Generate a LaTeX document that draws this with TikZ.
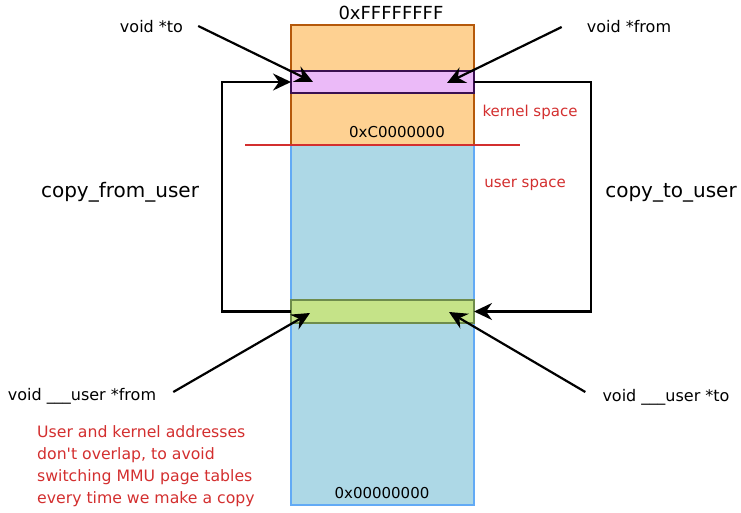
\documentclass[tikz,border=0pt]{standalone}
\usepackage{fontspec}
\setmainfont{DejaVu Sans}
\usetikzlibrary{arrows.meta,calc}
\definecolor{orfill}{HTML}{FED192}
\definecolor{orline}{HTML}{B5590B}
\definecolor{blfill}{HTML}{ADD8E6}
\definecolor{blline}{HTML}{62AAF5}
\definecolor{pufill}{HTML}{EBBAF8}
\definecolor{puline}{HTML}{3A1050}
\definecolor{grfill}{HTML}{C5E388}
\definecolor{grline}{HTML}{6E8C4C}
\definecolor{redtxt}{HTML}{D32F2F}
\begin{document}
\begin{tikzpicture}[x=1pt,y=-1pt,
  box/.style={draw, line width=2pt, inner sep=0, outer sep=0, minimum width=183pt},
  lbl/.style={inner sep=0, anchor=base, font=\fontsize{15}{18}\selectfont},
  ptrlbl/.style={inner sep=0, anchor=base, font=\fontsize{16}{19}\selectfont},
  copylbl/.style={inner sep=0, anchor=base, font=\fontsize{20}{24}\selectfont},
  redlbl/.style={lbl, text=redtxt},
  ptr/.style={draw, line width=2.2pt, -{Stealth[length=18pt,width=17pt,inset=6pt]}},
  loopline/.style={draw, line width=2.2pt, -{Stealth[length=18pt,width=17pt,inset=6pt]}},
]
\useasboundingbox (0,0) rectangle (741,513);

% memory column
\node[box, fill=blfill, draw=blline, minimum height=360pt, anchor=north west] (ubox) at (291,145) {};
\node[box, fill=orfill, draw=orline, minimum height=120pt, anchor=north west] (kbox) at (291,25) {};
\draw[redtxt, line width=1.8pt] ($(kbox.south west)+(-46,0)$) -- ($(kbox.south east)+(46,0)$);

\node[box, fill=pufill, draw=puline, minimum height=22pt] (kbar) at (382.5,82) {};
\node[box, fill=grfill, draw=grline, minimum height=23pt] (ubar) at (382.5,311.5) {};

% addresses and region labels
\node[lbl, font=\fontsize{18}{21}\selectfont] (top) at (391,20) {0xFFFFFFFF};
\node[lbl] (mid) at (397,138) {0xC0000000};
\node[lbl] (bot) at (382,498) {0x00000000};
\node[redlbl] (kspace) at (530,117) {kernel space};
\node[redlbl] (uspace) at (525,187) {user space};

% pointer labels
\node[ptrlbl] (vto) at (151.5,33) {void *to};
\node[ptrlbl] (vfrom) at (629,33) {void *from};
\node[ptrlbl] (vufrom) at (82,400) {void \_\_\_user *from};
\node[ptrlbl] (vuto) at (666,401) {void \_\_\_user *to};

% copy labels
\node[copylbl] (cfu) at (120,197) {copy\_from\_user};
\node[copylbl] (ctu) at (671,197) {copy\_to\_user};

% pointer arrows
\draw[ptr] ($(vto.base east)+(15,-7)$) -- ($(kbar.west)+(22,0)$);
\draw[ptr] ($(vfrom.base west)+(-25,-6)$) -- ($(kbar.east)+(-27,1)$);
\draw[ptr] ($(vufrom.base east)+(17,-8)$) -- ($(ubar.west)+(19,1.5)$);
\draw[ptr] ($(vuto.base west)+(-17,-9)$) -- ($(ubar.east)+(-25,0.5)$);

% copy loops
\draw[loopline] (ubar.west) -- ++(-69,0) |- (kbar.west);
\draw[loopline] (kbar.east) -- ++(117,0) |- (ubar.east);

% note
\node[anchor=north west, inner sep=0, align=left, text=redtxt,
      font=\fontsize{15.7}{22}\selectfont] (note) at (37,425)
  {User and kernel addresses\\don\textquotesingle t overlap, to avoid\\switching MMU page tables\\every time we make a copy};
\end{tikzpicture}
\end{document}
